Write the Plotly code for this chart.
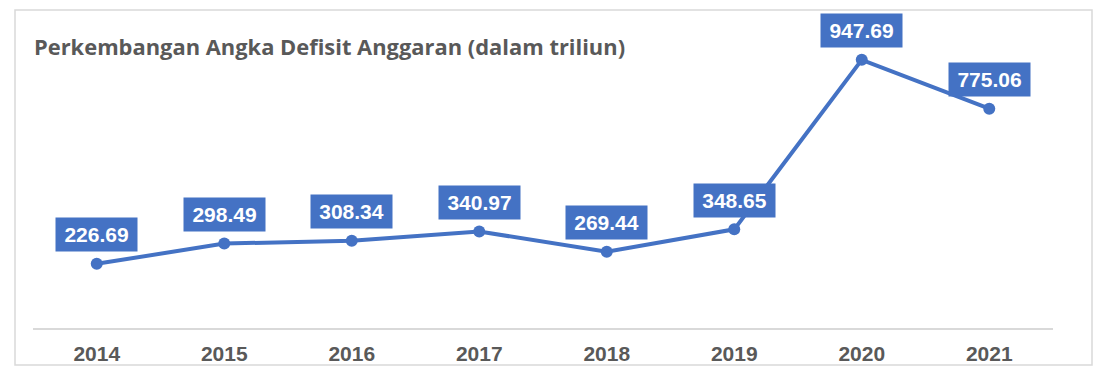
import plotly.graph_objects as go

years = ["2014", "2015", "2016", "2017", "2018", "2019", "2020", "2021"]
deficit = [226.69, 298.49, 308.34, 340.97, 269.44, 348.65, 947.69, 775.06]
title_text = "Perkembangan Angka Defisit Anggaran (dalam triliun)"

BLUE = "#4472C4"
W, H = 1105, 379
L, R, T, B = 33, 52, 45, 51
pw, ph = W - L - R, H - T - B

def px(x):
    return (x - L) / pw

def py(y):
    return (H - B - y) / ph

fig = go.Figure()
fig.add_trace(go.Scatter(
    x=years, y=deficit, mode="lines+markers",
    line=dict(color=BLUE, width=4),
    marker=dict(color=BLUE, size=12),
    hoverinfo="skip", showlegend=False,
))

for i, v in enumerate(deficit):
    fig.add_annotation(
        x=i, y=v, xref="x", yref="y", text=f"<b>{v:.2f}</b>", showarrow=False,
        yshift=29, width=73, height=25, borderpad=4, bgcolor=BLUE,
        align="center", valign="middle",
        font=dict(family="Liberation Sans, Arial", size=21, color="white"),
    )

fig.add_annotation(
    xref="paper", yref="paper", x=px(32), y=py(46), xanchor="left", yanchor="middle",
    text=f"<b>{title_text}</b>", showarrow=False,
    font=dict(family="Open Sans", size=21.9, color="#595959"),
)

fig.add_shape(type="rect", xref="paper", yref="paper",
              x0=px(15), x1=px(1092), y0=py(365), y1=py(10),
              line=dict(color="#D9D9D9", width=1.5), fillcolor="rgba(0,0,0,0)", layer="below")

fig.update_layout(
    width=W, height=H,
    margin=dict(l=L, r=R, t=T, b=B),
    paper_bgcolor="white", plot_bgcolor="white",
    xaxis=dict(
        type="category", range=[-0.5, 7.5], showgrid=False, zeroline=False,
        showline=True, linecolor="#D9D9D9", linewidth=1.5, ticks="",
        tickfont=dict(family="Liberation Sans, Arial", size=21, color="#595959"),
        ticklabelstandoff=6,
    ),
    yaxis=dict(range=[0, 1000], showticklabels=False, showline=False,
               showgrid=False, zeroline=False, ticks=""),
)
fig.update_xaxes(tickvals=years, ticktext=[f"<b>{y}</b>" for y in years])

fig.write_html("out.html", config={"displayModeBar": False},
               post_script="document.body.style.margin='0';document.body.style.overflow='hidden';")
